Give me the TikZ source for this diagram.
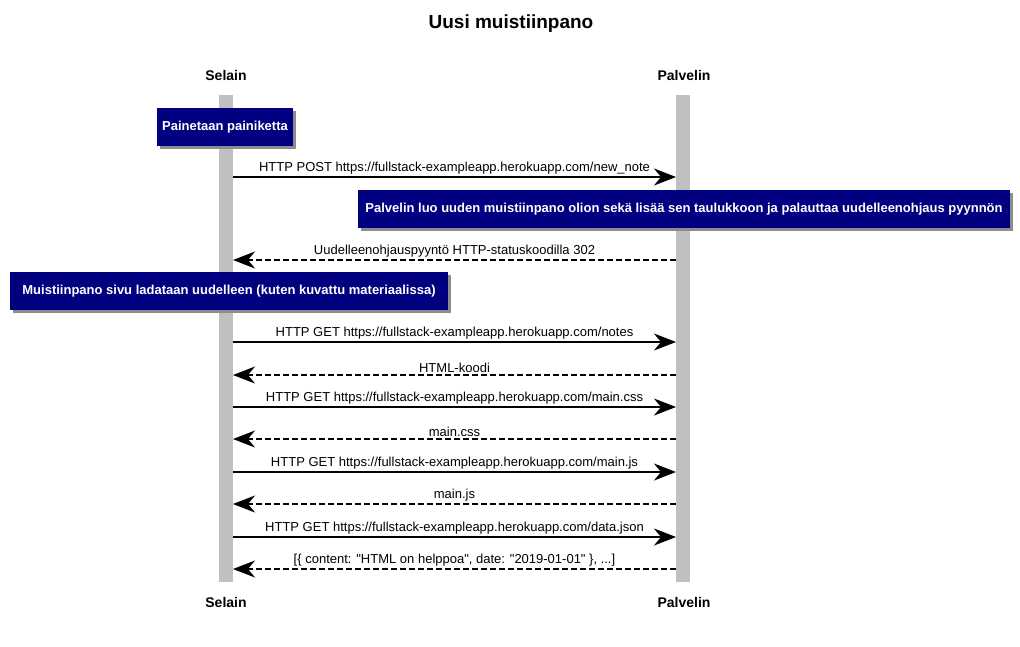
\documentclass[tikz,border=0pt]{standalone}
\usepackage{fontspec}
\setmainfont{Liberation Sans}
\usetikzlibrary{arrows.meta,shadows}
\definecolor{notenavy}{HTML}{000080}
\definecolor{lifegray}{HTML}{C0C0C0}
\tikzset{
	actor/.style={font=\fontsize{14}{16}\selectfont\bfseries},
	lifeline/.style={fill=lifegray,inner sep=0,outer sep=0,minimum width=14pt,minimum height=487pt},
	note/.style={fill=notenavy,text=white,font=\fontsize{13}{15}\selectfont\bfseries,inner sep=0,minimum height=38pt,drop shadow={shadow xshift=3pt,shadow yshift=-3pt,fill=black!45,opacity=1}},
	msg/.style={line width=1.5pt,-{Stealth[length=22pt,width=17pt,inset=7pt]}},
	reply/.style={msg,dash pattern=on 6pt off 3pt},
	lbl/.style={font=\fontsize{13}{15}\selectfont,above,inner sep=2pt}
}
\begin{document}
\begin{tikzpicture}[x=1pt,y=-1pt]
	\useasboundingbox (0,0) rectangle (1020,646);
	\node[font=\fontsize{19}{22}\selectfont\bfseries] (title) at (511,24) {Uusi muistiinpano};
	% osapuolet
	\node[actor] (selain) at (226,75) {Selain};
	\node[actor] (palvelin) at (684,75) {Palvelin};
	\node[actor] (selain2) at (226,602) {Selain};
	\node[actor] (palvelin2) at (684,602) {Palvelin};
	\node[lifeline] (sbar) at (226,338.5) {};
	\node[lifeline] (pbar) at (683,338.5) {};
	% viestit
	\draw[msg] (sbar.east |- 0,177) -- node[lbl] {HTTP POST https://fullstack-exampleapp.herokuapp.com/new\_note} (pbar.west |- 0,177);
	\draw[reply] (pbar.west |- 0,260) -- node[lbl] {Uudelleenohjauspyyntö HTTP-statuskoodilla 302} (sbar.east |- 0,260);
	\draw[msg] (sbar.east |- 0,342) -- node[lbl] {HTTP GET https://fullstack-exampleapp.herokuapp.com/notes} (pbar.west |- 0,342);
	\draw[reply] (pbar.west |- 0,375) -- node[lbl] {HTML-koodi} (sbar.east |- 0,375);
	\draw[msg] (sbar.east |- 0,407) -- node[lbl] {HTTP GET https://fullstack-exampleapp.herokuapp.com/main.css} (pbar.west |- 0,407);
	\draw[reply] (pbar.west |- 0,439) -- node[lbl] {main.css} (sbar.east |- 0,439);
	\draw[msg] (sbar.east |- 0,472) -- node[lbl] {HTTP GET https://fullstack-exampleapp.herokuapp.com/main.js} (pbar.west |- 0,472);
	\draw[reply] (pbar.west |- 0,504) -- node[lbl] {main.js} (sbar.east |- 0,504);
	\draw[msg] (sbar.east |- 0,537) -- node[lbl] {HTTP GET https://fullstack-exampleapp.herokuapp.com/data.json} (pbar.west |- 0,537);
	\draw[reply] (pbar.west |- 0,569) -- node[lbl] {[\{ content: \textquotedbl HTML on helppoa\textquotedbl, date: \textquotedbl 2019-01-01\textquotedbl\ \}, ...]} (sbar.east |- 0,569);
	% muistiinpanot
	\node[note,minimum width=136pt] (painike) at (225,127) {Painetaan painiketta};
	\node[note,minimum width=652pt] (luonti) at (684,209) {Palvelin luo uuden muistiinpano olion sekä lisää sen taulukkoon ja palauttaa uudelleenohjaus pyynnön};
	\node[note,minimum width=438pt] (lataus) at (229,291) {Muistiinpano sivu ladataan uudelleen (kuten kuvattu materiaalissa)};
\end{tikzpicture}
\end{document}
